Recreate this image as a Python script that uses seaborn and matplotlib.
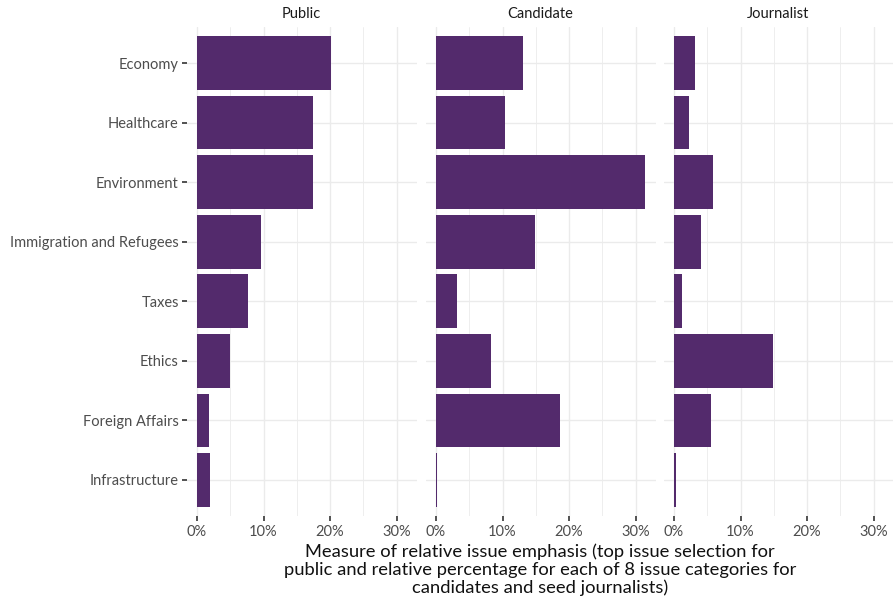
import matplotlib
matplotlib.use("Agg")
import matplotlib.pyplot as plt
import seaborn as sns
import pandas as pd
import numpy as np
from matplotlib.ticker import FixedLocator, FuncFormatter

issues = ["Economy", "Healthcare", "Environment", "Immigration and Refugees",
          "Taxes", "Ethics", "Foreign Affairs", "Infrastructure"]
groups = ["Public", "Candidate", "Journalist"]
public = [20.2, 17.5, 17.4, 9.6, 7.6, 4.9, 1.8, 2.0]
candidate = [13.0, 10.4, 31.4, 14.9, 3.2, 8.2, 18.6, 0.2]
journalist = [3.2, 2.3, 5.8, 4.0, 1.2, 14.8, 5.5, 0.3]
x_ticks = [0, 10, 20, 30]
x_tick_labels = ["0%", "10%", "20%", "30%"]
xlabel = ("Measure of relative issue emphasis (top issue selection for\n"
          "public and relative percentage for each of 8 issue categories for\n"
          "candidates and seed journalists)")

df = pd.DataFrame({
    "issue": issues * 3,
    "group": [g for g in groups for _ in issues],
    "value": public + candidate + journalist,
})

sns.set_theme(style="white")
plt.rcParams["font.family"] = ["Lato", "DejaVu Sans"]

W, H = 893, 602
fig = plt.figure(figsize=(W / 100, H / 100), dpi=100)
fig.patch.set_facecolor("white")

bar_color = "#532a6c"
grid_color = "#ebebeb"
text_gray = "#4d4d4d"

xmax = max(public + candidate + journalist)
xlim = (-0.05 * xmax, 1.05 * xmax)

panel_lefts = [186.5, 425.5, 663.5]
panel_w = 230.0
top_px, bot_px = 27.3, 515.7

for i, g in enumerate(groups):
    ax = fig.add_axes([panel_lefts[i] / W, 1 - bot_px / H, panel_w / W, (bot_px - top_px) / H])
    sub = df[df["group"] == g]
    sns.barplot(data=sub, x="value", y="issue", order=issues, orient="h",
                color=bar_color, width=0.9, saturation=1, ax=ax, linewidth=0)
    ax.set_xlim(*xlim)
    ax.set_ylim(len(issues) - 0.4, -0.6)
    ax.set_axisbelow(True)
    ax.xaxis.set_major_locator(FixedLocator(x_ticks))
    ax.xaxis.set_minor_locator(FixedLocator([5, 15, 25, 35]))
    ax.xaxis.set_major_formatter(FuncFormatter(
        lambda v, p: x_tick_labels[x_ticks.index(int(round(v)))] if int(round(v)) in x_ticks else ""))
    ax.grid(True, which="major", axis="both", color=grid_color, linewidth=1.0)
    ax.grid(True, which="minor", axis="x", color=grid_color, linewidth=0.6)
    for s in ax.spines.values():
        s.set_visible(False)
    ax.set_xlabel("")
    ax.set_ylabel("")
    ax.tick_params(axis="x", which="major", length=3.5, width=1.2, color="#333333",
                   labelsize=10.5, labelcolor=text_gray, pad=3.5, bottom=True)
    ax.tick_params(axis="x", which="minor", length=0)
    if i == 0:
        ax.tick_params(axis="y", length=3.5, width=1.2, color="#333333",
                       labelsize=10.5, labelcolor=text_gray, pad=2, left=True)
    else:
        ax.tick_params(axis="y", length=0, labelleft=False, left=False)
    ax.set_title(g, fontsize=10.5, color="#1a1a1a", pad=7)

fig.text(540 / W, 1 - 570 / H, xlabel, ha="center", va="center", fontsize=13.2,
         color="#111111", linespacing=1.13)

fig.savefig("out.png", dpi=100, facecolor="white")
